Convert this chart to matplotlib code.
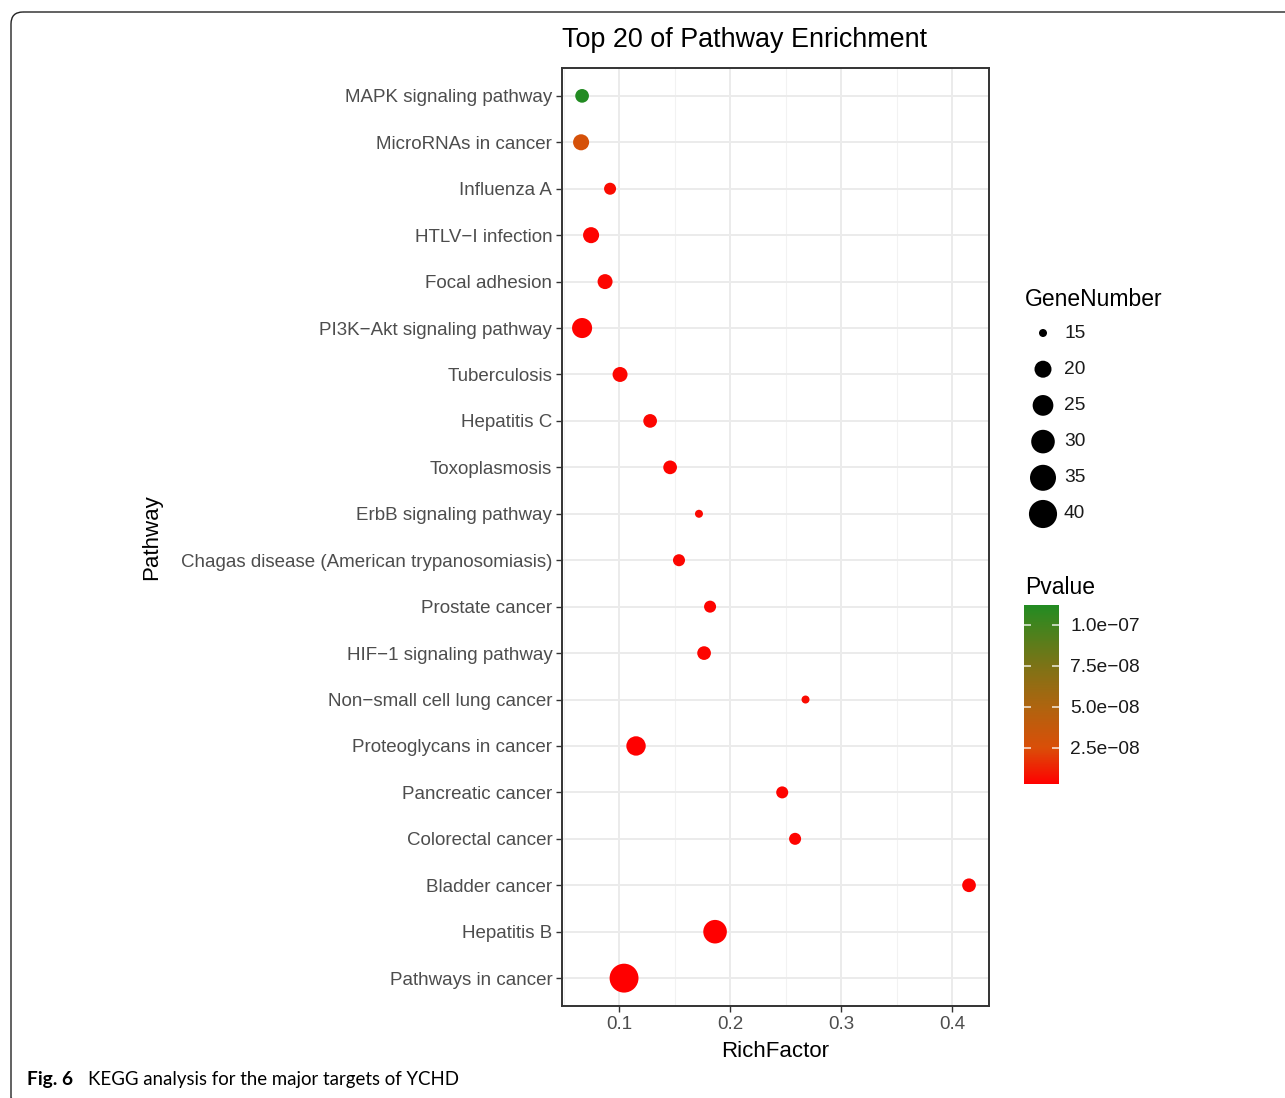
import numpy as np
import matplotlib
matplotlib.use("Agg")
import matplotlib.pyplot as plt
from matplotlib.colors import LinearSegmentedColormap, Normalize
from matplotlib.patches import FancyBboxPatch

# KEGG enrichment, top 20 pathways (listed top to bottom as drawn)
pathways = [
    "MAPK signaling pathway",
    "MicroRNAs in cancer",
    "Influenza A",
    "HTLV\u2212I infection",
    "Focal adhesion",
    "PI3K\u2212Akt signaling pathway",
    "Tuberculosis",
    "Hepatitis C",
    "Toxoplasmosis",
    "ErbB signaling pathway",
    "Chagas disease (American trypanosomiasis)",
    "Prostate cancer",
    "HIF\u22121 signaling pathway",
    "Non\u2212small cell lung cancer",
    "Proteoglycans in cancer",
    "Pancreatic cancer",
    "Colorectal cancer",
    "Bladder cancer",
    "Hepatitis B",
    "Pathways in cancer",
]
rich_factor = [0.0667, 0.0658, 0.0919, 0.0748, 0.0874, 0.0667, 0.1009, 0.128,
               0.146, 0.172, 0.154, 0.182, 0.1766, 0.268, 0.1153, 0.247,
               0.2586, 0.4153, 0.1865, 0.1045]
gene_number = [17, 19, 16, 19, 18, 24, 18, 17, 17, 15, 16, 16, 17, 15, 23,
               16, 16, 17, 30, 42]
pvalue = [1.12e-7, 2.8e-8, 6.0e-9, 4.0e-9, 5.0e-9, 3.5e-9, 4.5e-9, 5.0e-9,
          4.0e-9, 5.5e-9, 5.0e-9, 4.0e-9, 4.5e-9, 6.0e-9, 3.0e-9, 4.0e-9,
          4.0e-9, 3.5e-9, 3.2e-9, 2.9e-9]

size_breaks = [15, 20, 25, 30, 35, 40]
p_breaks = [2.5e-8, 5.0e-8, 7.5e-8, 1.0e-7]
p_labels = ["2.5e\u221208", "5.0e\u221208", "7.5e\u221208", "1.0e\u221207"]

W, H = 1285, 1098
fig = plt.figure(figsize=(W / 100, H / 100), dpi=100)
plt.rcParams["font.family"] = ["Liberation Sans", "DejaVu Sans"]


def box(x0, y0, x1, y1):
    # pixel box -> figure fraction rect
    return [x0 / W, 1 - y1 / H, (x1 - x0) / W, (y1 - y0) / H]


def diam_px(g):
    g = np.asarray(g, dtype=float)
    return 8 + 9 * np.sqrt(np.clip(g - 15, 0, None) / 5)


def marker_area(g):
    return (diam_px(g) * 0.72) ** 2


cmap = LinearSegmentedColormap.from_list("pv", [
    (0.0, (1.0, 0.0, 0.0)),
    (0.2, (218 / 255, 78 / 255, 8 / 255)),
    (0.43, (175 / 255, 100 / 255, 15 / 255)),
    (0.66, (125 / 255, 115 / 255, 22 / 255)),
    (0.89, (65 / 255, 132 / 255, 30 / 255)),
    (1.0, (34 / 255, 139 / 255, 34 / 255)),
])
norm = Normalize(vmin=min(pvalue), vmax=max(pvalue))

# background layer in pixel coordinates: frame and caption
bg = fig.add_axes([0, 0, 1, 1])
bg.set_xlim(0, W)
bg.set_ylim(H, 0)
bg.axis("off")
bg.add_patch(FancyBboxPatch((11, 12), 1300, 1098,
                            boxstyle="round,pad=0,rounding_size=12",
                            fill=False, edgecolor="#222222", linewidth=1.0))
bg.text(27, 1080, "Fig. 6", fontsize=13.8, fontweight="bold",
        family=["Lato", "DejaVu Sans"], va="center", ha="left")
bg.text(88, 1080, "KEGG analysis for the major targets of YCHD", fontsize=13.4,
        family=["Lato", "DejaVu Sans"], va="center", ha="left")

# main dot plot
ax = fig.add_axes(box(562, 68, 989, 1006))
n = len(pathways)
ypos = np.arange(n)[::-1]
ax.scatter(rich_factor, ypos, s=marker_area(gene_number),
           c=pvalue, cmap=cmap, norm=norm, linewidths=0, zorder=3)

ax.set_xlim(0.0486, 0.4333)
ax.set_ylim(-0.6, n - 1 + 0.6)
ax.set_yticks(ypos)
ax.set_yticklabels(pathways)
ax.set_xticks([0.1, 0.2, 0.3, 0.4])
ax.set_xticklabels(["0.1", "0.2", "0.3", "0.4"])
ax.set_xticks([0.05, 0.15, 0.25, 0.35], minor=True)
ax.grid(True, which="major", color="#EBEBEB", linewidth=1.4, zorder=0)
ax.grid(True, which="minor", axis="x", color="#F2F2F2", linewidth=0.8, zorder=0)
ax.set_axisbelow(True)
ax.tick_params(axis="both", which="major", length=4, width=1.0,
               color="#333333", labelcolor="#4D4D4D", labelsize=13.5, pad=3)
ax.tick_params(axis="x", which="minor", length=0)
for sp in ax.spines.values():
    sp.set_color("#333333")
    sp.set_linewidth(1.4)

ax.set_xlabel("RichFactor", fontsize=16, color="black", labelpad=6)
fig.text(152 / W, 1 - 537 / H, "Pathway", rotation=90, fontsize=16,
         ha="center", va="center")
fig.text(562 / W, 1 - 40 / H, "Top 20 of Pathway Enrichment", fontsize=19.4,
         ha="left", va="center")

# size legend
fig.text(1025 / W, 1 - 299 / H, "GeneNumber", fontsize=16.5, ha="left", va="center")
lg = fig.add_axes(box(1015, 315, 1180, 535))
lg.set_xlim(1015, 1180)
lg.set_ylim(535, 315)
lg.axis("off")
ly = 333 + 36.2 * np.arange(len(size_breaks))
lg.scatter([1043] * len(size_breaks), ly, s=marker_area(size_breaks),
           color="black", linewidths=0)
for y, b in zip(ly, size_breaks):
    lg.text(1064, y, str(b), fontsize=13.8, va="center", ha="left", color="#1A1A1A")

# colour bar legend
fig.text(1025 / W, 1 - 587 / H, "Pvalue", fontsize=16.5, ha="left", va="center")
cax = fig.add_axes(box(1024, 605, 1059, 784))
sm = plt.cm.ScalarMappable(norm=norm, cmap=cmap)
cb = fig.colorbar(sm, cax=cax)
cb.outline.set_visible(False)
cb.set_ticks(p_breaks)
cb.set_ticklabels(p_labels)
cax.tick_params(length=0, labelsize=13.8, labelcolor="#1A1A1A", pad=8)
cax.hlines(p_breaks, 0, 0.2, color="white", linewidth=1.2, alpha=0.8)
cax.hlines(p_breaks, 0.8, 1.0, color="white", linewidth=1.2, alpha=0.8)

fig.savefig("out.png", dpi=100)
